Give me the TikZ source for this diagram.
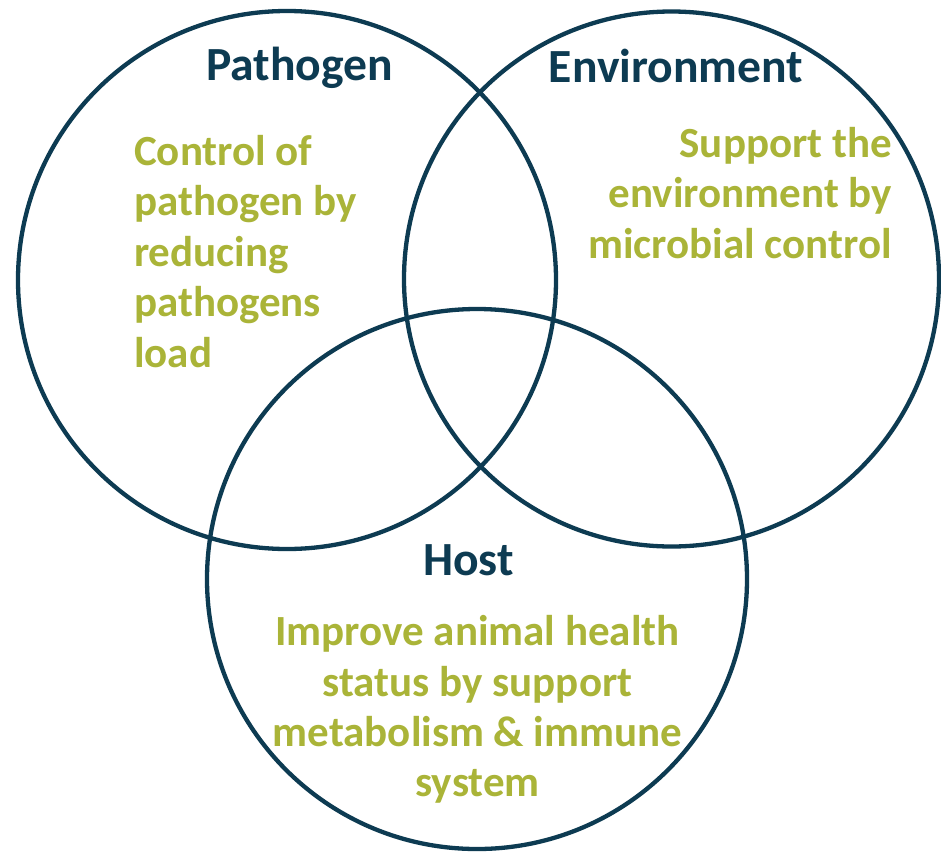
\documentclass[tikz,border=0pt]{standalone}
\usepackage{fontspec}
\setmainfont{Carlito}
\definecolor{navy}{HTML}{0D3B52}
\definecolor{olive}{HTML}{AAB438}
\tikzset{
  ring/.style={circle, draw=navy, line width=4.3pt, inner sep=0pt, outer sep=0pt},
  heading/.style={inner sep=0pt, text=navy, font=\fontsize{47.6}{56}\selectfont\bfseries},
  body/.style={inner sep=0pt, text=olive, font=\fontsize{43}{50}\selectfont\bfseries},
}
\begin{document}
\begin{tikzpicture}[x=1pt, y=-1pt]
\useasboundingbox (0,0) rectangle (941,854);
\fill[white] (0,0) rectangle (941,854);
% circles
\node[ring, minimum size=538pt] (pathogen) at (287,280) {};
\node[ring, minimum size=535pt] (environment) at (671.5,279) {};
\node[ring, minimum size=540pt] (host) at (477,579) {};
% headings
\node[heading, anchor=base] (hp) at (299.5,80) {Pathogen};
\node[heading, anchor=base] (he) at (676,82) {Environment};
\node[heading, anchor=base] (hh) at (468.5,575) {Host};
% pathogen text
\node[body, anchor=base west] (p1) at (134,165) {Control of};
\node[body, anchor=base west] (p2) at (134,215.5) {pathogen by};
\node[body, anchor=base west] (p3) at (134,266) {reducing};
\node[body, anchor=base west] (p4) at (134,316.5) {pathogens};
\node[body, anchor=base west] (p5) at (134,367) {load};
% environment text
\node[body, anchor=base east] (e1) at (892,157) {Support the};
\node[body, anchor=base east] (e2) at (892,207.5) {environment by};
\node[body, anchor=base east] (e3) at (892,258) {microbial control};
% host text
\node[body, anchor=base] (t1) at (477.5,645) {Improve animal health};
\node[body, anchor=base] (t2) at (477.5,696) {status by support};
\node[body, anchor=base] (t3) at (477.5,746) {metabolism \& immune};
\node[body, anchor=base] (t4) at (477.5,796) {system};
\end{tikzpicture}
\end{document}
